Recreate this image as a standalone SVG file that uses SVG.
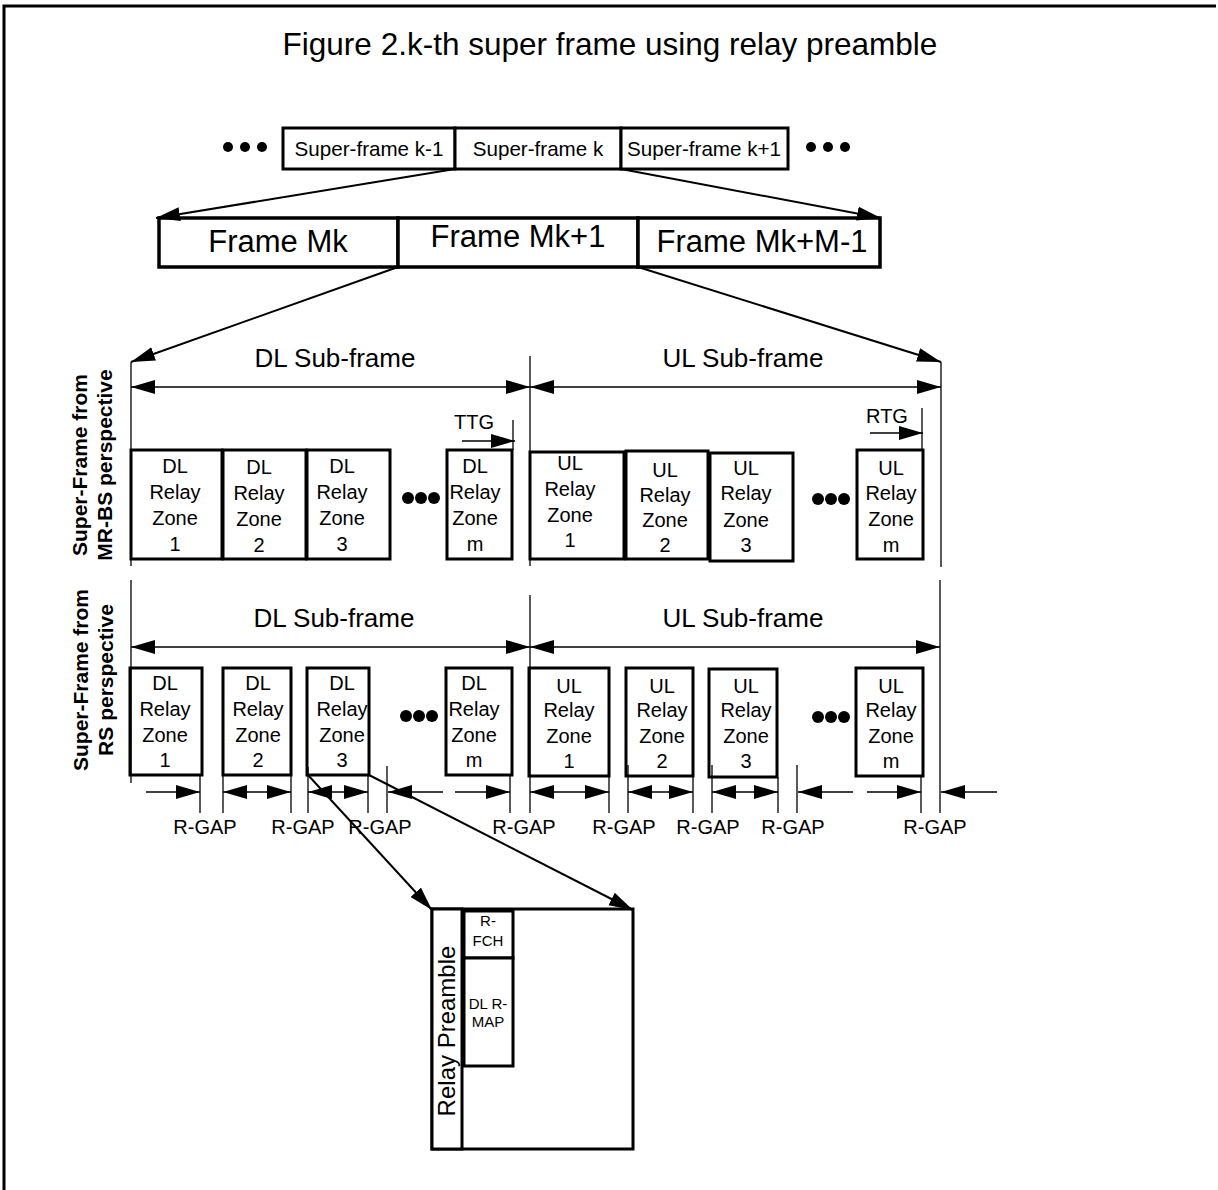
<svg xmlns="http://www.w3.org/2000/svg" width="1218" height="1190" viewBox="0 0 1218 1190">
<style>
  .bx { fill: #fff; stroke: #000; stroke-width: 3; }
  .bxt { fill: #fff; stroke: #000; stroke-width: 3.5; }
  .ln { fill: none; stroke: #000; stroke-width: 1.3; }
  .cn { fill: none; stroke: #000; stroke-width: 2; marker-end: url(#ah); }
  .ar { fill: none; stroke: #000; stroke-width: 1.5; marker-end: url(#ah); }
  .da { fill: none; stroke: #000; stroke-width: 1.5; marker-end: url(#ah); marker-start: url(#ah); }
  text { font-family: "Liberation Sans", Arial, sans-serif; fill: #000; }
  .t20 { font-size: 20px; text-anchor: middle; }
  .tsf { font-size: 20.6px; text-anchor: middle; }
  .t26 { font-size: 26px; text-anchor: middle; }
  .t31 { font-size: 31px; text-anchor: middle; }
  .vb { font-size: 21px; font-weight: bold; text-anchor: middle; }
  .t15 { font-size: 15px; text-anchor: middle; }
</style>
<defs>
  <marker id="ah" markerUnits="userSpaceOnUse" markerWidth="26" markerHeight="16" refX="24" refY="7" orient="auto-start-reverse">
    <path d="M0,0 L24,7 L0,14 Z" fill="#000"/>
  </marker>
</defs>
<rect width="1218" height="1190" fill="#fff"/>
<path d="M4,1190 V6 H1216" fill="none" stroke="#000" stroke-width="3"/>
<text x="610" y="55" style="font-size:31.5px;text-anchor:middle">Figure 2.k-th super frame using relay preamble</text>

<g id="dots-top">
  <circle cx="228" cy="147" r="5"/><circle cx="245" cy="147" r="5"/><circle cx="262" cy="147" r="5"/>
  <circle cx="811" cy="147" r="5"/><circle cx="828" cy="147" r="5"/><circle cx="845" cy="147" r="5"/>
</g>
<g id="sf-k-1"><rect class="bx" x="283" y="128" width="172" height="41"/><text class="tsf" x="369" y="156">Super-frame k-1</text></g>
<g id="sf-k"><rect class="bx" x="455" y="128" width="166" height="41"/><text class="tsf" x="538" y="156">Super-frame k</text></g>
<g id="sf-k1"><rect class="bx" x="621" y="128" width="167" height="41"/><text class="tsf" x="704" y="156">Super-frame k+1</text></g>

<g id="fr-mk"><rect class="bxt" x="159" y="218" width="239" height="49"/><text class="t31" x="278" y="252">Frame Mk</text></g>
<g id="fr-mk1"><rect class="bxt" x="398" y="218" width="240" height="49"/><text class="t31" x="518" y="247">Frame Mk+1</text></g>
<g id="fr-mkm"><rect class="bxt" x="638" y="218" width="242" height="49"/><text class="t31" x="762" y="252">Frame Mk+M-1</text></g>

<g id="label-mrbs">
  <text class="vb" transform="translate(87,465) rotate(-90)">Super-Frame from</text>
  <text class="vb" transform="translate(112,465) rotate(-90)">MR-BS perspective</text>
</g>
<g id="label-rs">
  <text class="vb" transform="translate(88,680) rotate(-90)">Super-Frame from</text>
  <text class="vb" transform="translate(113,680) rotate(-90)">RS perspective</text>
</g>

<g id="sub-labels">
  <text class="t26" x="335" y="367">DL Sub-frame</text>
  <text class="t26" x="743" y="367">UL Sub-frame</text>
  <text class="t26" x="334" y="627">DL Sub-frame</text>
  <text class="t26" x="743" y="627">UL Sub-frame</text>
  <text class="t20" x="474" y="429">TTG</text>
  <text class="t20" x="887" y="423">RTG</text>
</g>

<g id="mrbs-dl1"><rect class="bx" x="131" y="450" width="91" height="109"/><text class="t20"><tspan x="175" y="473">DL</tspan><tspan x="175" y="499">Relay</tspan><tspan x="175" y="525">Zone</tspan><tspan x="175" y="551">1</tspan></text></g>
<g id="mrbs-dl2"><rect class="bx" x="223" y="450" width="83" height="109"/><text class="t20"><tspan x="259" y="474">DL</tspan><tspan x="259" y="500">Relay</tspan><tspan x="259" y="526">Zone</tspan><tspan x="259" y="552">2</tspan></text></g>
<g id="mrbs-dl3"><rect class="bx" x="307" y="450" width="83" height="109"/><text class="t20"><tspan x="342" y="473">DL</tspan><tspan x="342" y="499">Relay</tspan><tspan x="342" y="525">Zone</tspan><tspan x="342" y="551">3</tspan></text></g>
<g id="mrbs-dlm"><rect class="bx" x="447" y="450" width="65" height="109"/><text class="t20"><tspan x="475" y="473">DL</tspan><tspan x="475" y="499">Relay</tspan><tspan x="475" y="525">Zone</tspan><tspan x="475" y="551">m</tspan></text></g>
<g id="mrbs-dl-dots"><circle cx="408" cy="498" r="6"/><circle cx="421" cy="498" r="6"/><circle cx="434" cy="498" r="6"/></g>

<g id="mrbs-ul1"><rect class="bx" x="530" y="452" width="94" height="107"/><text class="t20"><tspan x="570" y="470">UL</tspan><tspan x="570" y="496">Relay</tspan><tspan x="570" y="522">Zone</tspan><tspan x="570" y="547">1</tspan></text></g>
<g id="mrbs-ul2"><rect class="bx" x="626" y="451" width="82" height="108"/><text class="t20"><tspan x="665" y="477">UL</tspan><tspan x="665" y="502">Relay</tspan><tspan x="665" y="527">Zone</tspan><tspan x="665" y="552">2</tspan></text></g>
<g id="mrbs-ul3"><rect class="bx" x="710" y="453" width="83" height="108"/><text class="t20"><tspan x="746" y="475">UL</tspan><tspan x="746" y="500">Relay</tspan><tspan x="746" y="527">Zone</tspan><tspan x="746" y="552">3</tspan></text></g>
<g id="mrbs-ulm"><rect class="bx" x="857" y="450" width="66" height="109"/><text class="t20"><tspan x="891" y="475">UL</tspan><tspan x="891" y="500">Relay</tspan><tspan x="891" y="526">Zone</tspan><tspan x="891" y="552">m</tspan></text></g>
<g id="mrbs-ul-dots"><circle cx="818" cy="499" r="6"/><circle cx="831" cy="499" r="6"/><circle cx="844" cy="499" r="6"/></g>

<g id="rs-dl1"><rect class="bx" x="130" y="668" width="72" height="107"/><text class="t20"><tspan x="165" y="690">DL</tspan><tspan x="165" y="716">Relay</tspan><tspan x="165" y="742">Zone</tspan><tspan x="165" y="767">1</tspan></text></g>
<g id="rs-dl2"><rect class="bx" x="223" y="668" width="68" height="107"/><text class="t20"><tspan x="258" y="690">DL</tspan><tspan x="258" y="716">Relay</tspan><tspan x="258" y="742">Zone</tspan><tspan x="258" y="767">2</tspan></text></g>
<g id="rs-dl3"><rect class="bx" x="307" y="668" width="62" height="107"/><text class="t20"><tspan x="342" y="690">DL</tspan><tspan x="342" y="716">Relay</tspan><tspan x="342" y="742">Zone</tspan><tspan x="342" y="767">3</tspan></text></g>
<g id="rs-dlm"><rect class="bx" x="446" y="668" width="66" height="107"/><text class="t20"><tspan x="474" y="690">DL</tspan><tspan x="474" y="716">Relay</tspan><tspan x="474" y="742">Zone</tspan><tspan x="474" y="767">m</tspan></text></g>
<g id="rs-dl-dots"><circle cx="406" cy="716" r="6"/><circle cx="419" cy="716" r="6"/><circle cx="432" cy="716" r="6"/></g>

<g id="rs-ul1"><rect class="bx" x="529" y="668" width="80" height="108"/><text class="t20"><tspan x="569" y="693">UL</tspan><tspan x="569" y="717">Relay</tspan><tspan x="569" y="743">Zone</tspan><tspan x="569" y="768">1</tspan></text></g>
<g id="rs-ul2"><rect class="bx" x="626" y="668" width="67" height="108"/><text class="t20"><tspan x="662" y="693">UL</tspan><tspan x="662" y="717">Relay</tspan><tspan x="662" y="743">Zone</tspan><tspan x="662" y="768">2</tspan></text></g>
<g id="rs-ul3"><rect class="bx" x="709" y="669" width="68" height="108"/><text class="t20"><tspan x="746" y="693">UL</tspan><tspan x="746" y="717">Relay</tspan><tspan x="746" y="743">Zone</tspan><tspan x="746" y="768">3</tspan></text></g>
<g id="rs-ulm"><rect class="bx" x="856" y="668" width="67" height="108"/><text class="t20"><tspan x="891" y="693">UL</tspan><tspan x="891" y="717">Relay</tspan><tspan x="891" y="743">Zone</tspan><tspan x="891" y="768">m</tspan></text></g>
<g id="rs-ul-dots"><circle cx="818" cy="717" r="6"/><circle cx="831" cy="717" r="6"/><circle cx="844" cy="717" r="6"/></g>

<g id="rgap-labels">
  <text class="t20" x="205" y="834">R-GAP</text>
  <text class="t20" x="303" y="834">R-GAP</text>
  <text class="t20" x="380" y="834">R-GAP</text>
  <text class="t20" x="524" y="834">R-GAP</text>
  <text class="t20" x="624" y="834">R-GAP</text>
  <text class="t20" x="708" y="834">R-GAP</text>
  <text class="t20" x="793" y="834">R-GAP</text>
  <text class="t20" x="935" y="834">R-GAP</text>
</g>

<g id="detail">
  <rect class="bx" x="432" y="909" width="201" height="240"/>
  <rect class="bx" x="432" y="909" width="30" height="240"/>
  <rect class="bx" x="464" y="911" width="49" height="47"/>
  <rect class="bx" x="464" y="958" width="49" height="108"/>
  <text style="font-size:24px;text-anchor:middle" transform="translate(455,1031) rotate(-90)">Relay Preamble</text>
  <text class="t15"><tspan x="488" y="926">R-</tspan><tspan x="488" y="946">FCH</tspan></text>
  <text class="t15"><tspan x="488" y="1009">DL R-</tspan><tspan x="488" y="1027">MAP</tspan></text>
</g>

<g id="connectors">
  <line class="cn" x1="455" y1="169" x2="156" y2="218"/>
  <line class="cn" x1="621" y1="169" x2="881" y2="218"/>
  <line class="cn" x1="398" y1="267" x2="131" y2="362"/>
  <line class="cn" x1="638" y1="267" x2="941" y2="362"/>
  <line class="cn" x1="308" y1="775" x2="432" y2="910"/>
  <line class="cn" x1="369" y1="775" x2="633" y2="910"/>

  <line class="ln" x1="131" y1="362" x2="131" y2="566"/>
  <line class="ln" x1="530" y1="356" x2="530" y2="566"/>
  <line class="ln" x1="941" y1="362" x2="941" y2="567"/>
  <line class="ln" x1="131" y1="580" x2="131" y2="783"/>
  <line class="ln" x1="530" y1="595" x2="530" y2="813"/>
  <line class="ln" x1="940" y1="580" x2="940" y2="813"/>

  <line class="da" x1="131" y1="387" x2="530" y2="387"/>
  <line class="da" x1="530" y1="387" x2="941" y2="387"/>
  <line class="da" x1="131" y1="647" x2="530" y2="647"/>
  <line class="da" x1="530" y1="647" x2="940" y2="647"/>

  <line class="ln" x1="513" y1="420" x2="513" y2="450"/>
  <line class="ar" x1="462" y1="441" x2="515" y2="441"/>
  <line class="ln" x1="922" y1="408" x2="922" y2="450"/>
  <line class="ar" x1="870" y1="433" x2="923" y2="433"/>

  <line class="ln" x1="200" y1="775" x2="200" y2="813"/>
  <line class="ln" x1="223" y1="775" x2="223" y2="813"/>
  <line class="ln" x1="291" y1="775" x2="291" y2="813"/>
  <line class="ln" x1="308" y1="767" x2="308" y2="813"/>
  <line class="ln" x1="368" y1="775" x2="368" y2="813"/>
  <line class="ln" x1="387" y1="766" x2="387" y2="813"/>
  <line class="ln" x1="510" y1="775" x2="510" y2="813"/>
  <line class="ln" x1="609" y1="776" x2="609" y2="813"/>
  <line class="ln" x1="628" y1="765" x2="628" y2="813"/>
  <line class="ln" x1="693" y1="776" x2="693" y2="813"/>
  <line class="ln" x1="712" y1="765" x2="712" y2="813"/>
  <line class="ln" x1="778" y1="777" x2="778" y2="813"/>
  <line class="ln" x1="797" y1="765" x2="797" y2="813"/>
  <line class="ln" x1="921" y1="776" x2="921" y2="813"/>

  <line class="ar" x1="146" y1="792" x2="200" y2="792"/>
  <line class="da" x1="223" y1="792" x2="291" y2="792"/>
  <line class="da" x1="308" y1="792" x2="368" y2="792"/>
  <line class="ar" x1="443" y1="792" x2="388" y2="792"/>
  <line class="ar" x1="455" y1="792" x2="510" y2="792"/>
  <line class="da" x1="530" y1="792" x2="609" y2="792"/>
  <line class="da" x1="628" y1="792" x2="693" y2="792"/>
  <line class="da" x1="712" y1="792" x2="778" y2="792"/>
  <line class="ar" x1="853" y1="792" x2="798" y2="792"/>
  <line class="ar" x1="867" y1="792" x2="921" y2="792"/>
  <line class="ar" x1="997" y1="792" x2="941" y2="792"/>
</g>
</svg>
